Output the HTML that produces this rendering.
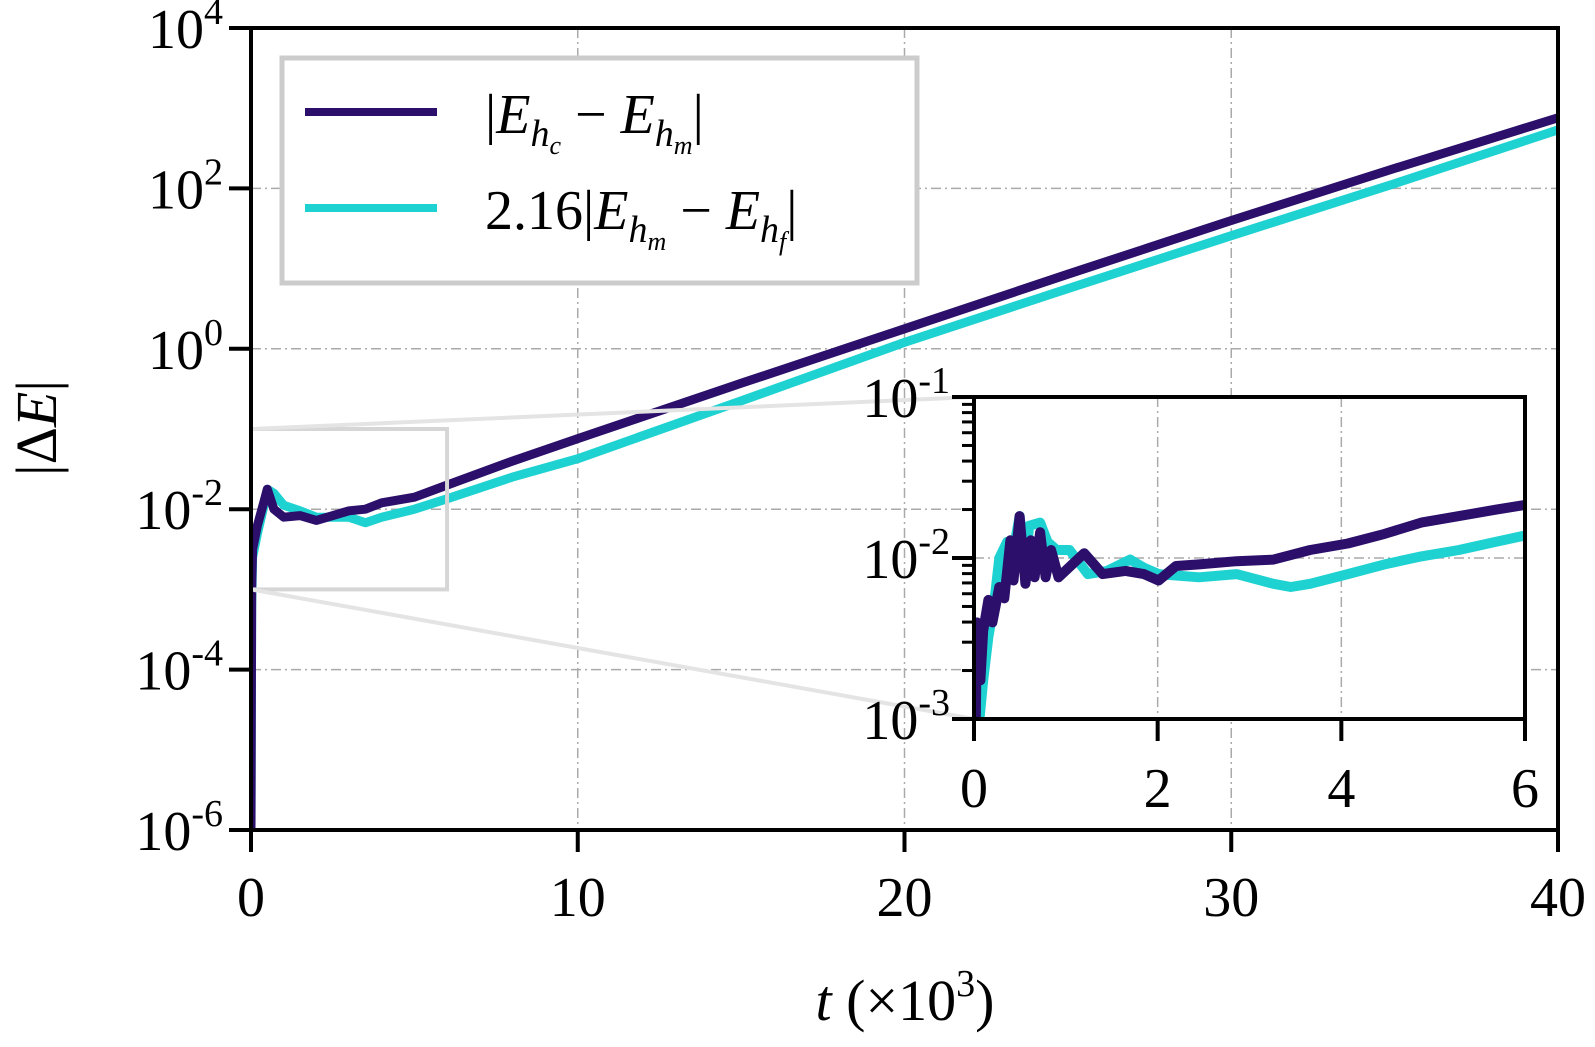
<!DOCTYPE html>
<html><head><meta charset="utf-8"><style>
body{margin:0;background:#fff;}
svg text{font-family:"Liberation Serif",serif;fill:#000;}
</style></head><body>
<svg id="chart" width="1595" height="1042" viewBox="0 0 1595 1042" xmlns="http://www.w3.org/2000/svg"></svg>
<script>
// main data (t in thousands, log10 |ΔE|)
const mainT = [0,0.02,0.05,0.2,0.4,0.5,0.7,1,1.5,2,3,3.5,4,5,6,8,10,15,20,25,30,35,40];
const mainDark = [-6,-3,-2.5,-2.2,-1.9,-1.75,-2.0,-2.1,-2.08,-2.14,-2.02,-2.0,-1.92,-1.85,-1.7,-1.4,-1.12,-0.43,0.25,0.93,1.6,2.25,2.88];
const mainCyan = [-6,-3.2,-2.6,-2.3,-1.95,-1.75,-1.8,-1.95,-2.02,-2.1,-2.1,-2.17,-2.1,-2.0,-1.87,-1.6,-1.37,-0.65,0.08,0.75,1.41,2.06,2.73];
// inset data
const insetDarkT = [0.02,0.033,0.07,0.1,0.157,0.2,0.275,0.33,0.396,0.43,0.497,0.56,0.62,0.66,0.72,0.78,0.84,0.92,1.2,1.4,1.65,1.85,2.01,2.2,2.45,2.86,3.26,3.66,4.07,4.47,4.87,5.28,5.68,6.0];
const insetDarkV = [-3.0,-2.4,-2.76,-2.45,-2.26,-2.4,-2.18,-2.25,-1.89,-2.14,-1.74,-2.16,-1.89,-2.12,-1.84,-2.12,-1.95,-2.12,-1.97,-2.1,-2.08,-2.1,-2.14,-2.05,-2.04,-2.02,-2.01,-1.95,-1.91,-1.85,-1.78,-1.74,-1.70,-1.67];
const insetCyanT = [0.06,0.1,0.157,0.22,0.275,0.36,0.4,0.497,0.56,0.6,0.72,0.8,0.9,1.04,1.24,1.45,1.7,1.85,2.01,2.45,2.86,3.26,3.45,3.66,4.07,4.47,4.87,5.28,5.68,6.0];
const insetCyanV = [-3.0,-2.76,-2.49,-2.28,-2.0,-1.9,-2.05,-1.74,-2.05,-1.8,-1.78,-1.9,-1.95,-1.95,-2.1,-2.08,-2.01,-2.06,-2.1,-2.12,-2.1,-2.16,-2.18,-2.16,-2.1,-2.04,-1.99,-1.95,-1.90,-1.86];
const mainXTicks = [0,10,20,30,40];
const mainYTicks = [4,2,0,-2,-4,-6];
const insetXTicks = [0,2,4,6];
const insetYTicks = [-1,-2,-3];

const NS="http://www.w3.org/2000/svg";
const svg=document.getElementById('chart');
function mk(tag,attrs,parent){const e=document.createElementNS(NS,tag);for(const k in attrs)e.setAttribute(k,attrs[k]);(parent||svg).appendChild(e);return e;}

const MX0=251,MX1=1558,MY0=830,MY1=28;
const mx=t=>MX0+(t-0)/40*(MX1-MX0);
const my=l=>MY0-(l+6)/10*(MY0-MY1);
const IX0=974,IX1=1525,IY0=719,IY1=397;
const ix=t=>IX0+t/6*(IX1-IX0);
const iy=l=>IY0-(l+3)/2*(IY0-IY1);

mainXTicks.forEach(v=>{if(v>0&&v<40){const g=mk('line',{x1:mx(v),x2:mx(v),y1:MY1,y2:MY0,stroke:'#aaa','stroke-width':1.5,'stroke-dasharray':'10 4 2 4'});

}});
mainYTicks.forEach(v=>{if(v<4&&v>-6){const g=mk('line',{x1:MX0,x2:MX1,y1:my(v),y2:my(v),stroke:'#aaa','stroke-width':1.5,'stroke-dasharray':'10 4 2 4'});

}});

function poly(ts,vs,fx,fy,color,w,name,clip){
  const pts=ts.map((t,i)=>fx(t).toFixed(1)+','+fy(vs[i]).toFixed(1)).join(' ');
  const p=mk('polyline',{points:pts,fill:'none',stroke:color,'stroke-width':w,'stroke-linejoin':'round','stroke-linecap':'round'});
  if(clip)p.setAttribute('clip-path',clip);
  
  
}
const defs=mk('defs',{});
const cp=mk('clipPath',{id:'mclip'},defs);mk('rect',{x:MX0,y:MY1,width:MX1-MX0,height:MY0-MY1},cp);
const cp2=mk('clipPath',{id:'iclip'},defs);mk('rect',{x:IX0,y:IY1,width:IX1-IX0,height:IY0-IY1},cp2);

poly(mainT,mainCyan,mx,my,'#1ed2d2',9,'series-cyan','url(#mclip)');
poly(mainT,mainDark,mx,my,'#2b0f6b',9,'series-dark','url(#mclip)');

const zr=mk('rect',{x:mx(0),y:my(-1),width:mx(6)-mx(0),height:my(-3)-my(-1),fill:'none',stroke:'#d6d6d6','stroke-width':4});


const c1=mk('line',{x1:mx(0),y1:my(-1),x2:IX0,y2:IY1,stroke:'#e4e4e4','stroke-width':4});


const c2=mk('line',{x1:mx(0),y1:my(-3),x2:IX0,y2:IY0,stroke:'#e4e4e4','stroke-width':4});



const mf=mk('rect',{x:MX0,y:MY1,width:MX1-MX0,height:MY0-MY1,fill:'none',stroke:'#000','stroke-width':4});


mainXTicks.forEach(v=>{
  mk('line',{x1:mx(v),x2:mx(v),y1:MY0,y2:MY0+22,stroke:'#000','stroke-width':4});
  const t=mk('text',{x:mx(v),y:MY0+86,'font-size':56,'text-anchor':'middle'});t.textContent=v;
  
  
});
mainYTicks.forEach(v=>{
  mk('line',{x1:MX0-22,x2:MX0,y1:my(v),y2:my(v),stroke:'#000','stroke-width':4});
  const t=mk('text',{x:MX0-28,y:my(v)+20,'font-size':56,'text-anchor':'end'});
  t.innerHTML='10<tspan dy="-24" font-size="38">'+v+'</tspan>';
  
  
});
const xl=mk('text',{x:905,y:1020,'font-size':58,'text-anchor':'middle'});
xl.innerHTML='<tspan font-style="italic">t</tspan> (×10<tspan dy="-24" font-size="38">3</tspan><tspan dy="24">)</tspan>';


const yl=mk('text',{x:0,y:0,'font-size':58,'text-anchor':'middle',transform:'translate(56,428) rotate(-90)'});
yl.innerHTML='|Δ<tspan font-style="italic">E</tspan>|';



const lg=mk('g',{});


mk('rect',{x:282,y:58,width:635,height:225,fill:'#fff',stroke:'#ccc','stroke-width':5},lg);
mk('line',{x1:305,x2:437,y1:112,y2:112,stroke:'#2b0f6b','stroke-width':8},lg);
mk('line',{x1:305,x2:437,y1:208,y2:208,stroke:'#1ed2d2','stroke-width':8},lg);
const l1=mk('text',{x:485,y:133,'font-size':56},lg);
l1.innerHTML='|<tspan font-style="italic">E</tspan><tspan dy="13" font-size="38" font-style="italic">h</tspan><tspan dy="8" font-size="26" font-style="italic">c</tspan><tspan dy="-21"> − </tspan><tspan font-style="italic">E</tspan><tspan dy="13" font-size="38" font-style="italic">h</tspan><tspan dy="8" font-size="26" font-style="italic">m</tspan><tspan dy="-21">|</tspan>';


const l2=mk('text',{x:485,y:229,'font-size':56},lg);
l2.innerHTML='2.16|<tspan font-style="italic">E</tspan><tspan dy="13" font-size="38" font-style="italic">h</tspan><tspan dy="8" font-size="26" font-style="italic">m</tspan><tspan dy="-21"> − </tspan><tspan font-style="italic">E</tspan><tspan dy="13" font-size="38" font-style="italic">h</tspan><tspan dy="8" font-size="26" font-style="italic">f</tspan><tspan dy="-21">|</tspan>';



const ib=mk('rect',{x:IX0,y:IY1,width:IX1-IX0,height:IY0-IY1,fill:'#fff'});


[2,4].forEach(v=>{const g=mk('line',{x1:ix(v),x2:ix(v),y1:IY1,y2:IY0,stroke:'#aaa','stroke-width':1.5,'stroke-dasharray':'10 4 2 4'});

});
{const g=mk('line',{x1:IX0,x2:IX1,y1:iy(-2),y2:iy(-2),stroke:'#aaa','stroke-width':1.5,'stroke-dasharray':'10 4 2 4'});

}
poly(insetCyanT,insetCyanV,ix,iy,'#1ed2d2',10,'inset-series-cyan','url(#iclip)');
poly(insetDarkT,insetDarkV,ix,iy,'#2b0f6b',10,'inset-series-dark','url(#iclip)');
const inf=mk('rect',{x:IX0,y:IY1,width:IX1-IX0,height:IY0-IY1,fill:'none',stroke:'#000','stroke-width':4});


insetXTicks.forEach(v=>{
  mk('line',{x1:ix(v),x2:ix(v),y1:IY0,y2:IY0+22,stroke:'#000','stroke-width':4});
  const t=mk('text',{x:ix(v),y:IY0+88,'font-size':56,'text-anchor':'middle'});t.textContent=v;
  
  
});
insetYTicks.forEach(v=>{
  mk('line',{x1:IX0-22,x2:IX0,y1:iy(v),y2:iy(v),stroke:'#000','stroke-width':4});
  const t=mk('text',{x:IX0-24,y:iy(v)+20,'font-size':56,'text-anchor':'end'});
  t.innerHTML='10<tspan dy="-24" font-size="38">'+v+'</tspan>';
  
  
});
for(let d=-3;d<-1;d++){for(let k=2;k<=9;k++){const y=iy(d+Math.log10(k));
  mk('line',{x1:IX0-12,x2:IX0,y1:y,y2:y,stroke:'#000','stroke-width':3});}}
</script>
</body></html>
